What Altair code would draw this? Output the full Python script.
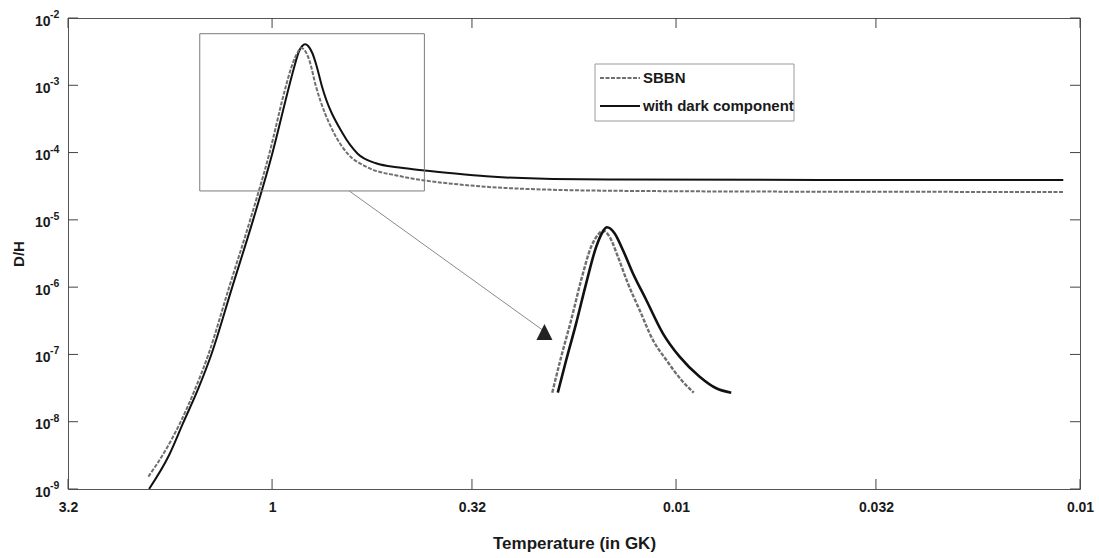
import altair as alt
import pandas as pd

# ---------------- values ----------------
# main curves: temperature (GK) and D/H
sbbn_T = [2.024, 1.840, 1.689, 1.550, 1.439, 1.277, 1.133, 1.016, 0.924, 0.897,
          0.871, 0.847, 0.828, 0.809, 0.779, 0.702, 0.650, 0.585, 0.484, 0.420,
          0.358, 0.295, 0.202, 0.138, 0.044, 0.011]
sbbn_DH = [1.53e-9, 3.67e-9, 9.6e-9, 3.07e-8, 9.8e-8, 1.0e-6, 9.95e-6, 9.6e-5, 9.76e-4, 1.81e-3,
           2.82e-3, 3.58e-3, 3.23e-3, 2.38e-3, 9.76e-4, 1.93e-4, 9.62e-5, 6.17e-5, 4.49e-5, 3.85e-5,
           3.44e-5, 3.10e-5, 2.80e-5, 2.70e-5, 2.62e-5, 2.60e-5]

dark_T = [2.016, 1.798, 1.660, 1.524, 1.415, 1.255, 1.114, 0.999, 0.907, 0.881,
          0.857, 0.842, 0.828, 0.814, 0.795, 0.777, 0.753, 0.669, 0.614, 0.553,
          0.484, 0.420, 0.358, 0.295, 0.202, 0.138, 0.044, 0.011]
dark_DH = [1.0e-9, 3.2e-9, 9.6e-9, 3.07e-8, 9.8e-8, 1.0e-6, 1.0e-5, 9.6e-5, 9.76e-4, 1.89e-3,
           3.23e-3, 3.84e-3, 4.07e-3, 3.84e-3, 3.02e-3, 2.00e-3, 9.76e-4, 1.93e-4, 9.62e-5, 6.93e-5,
           6.00e-5, 5.42e-5, 4.92e-5, 4.44e-5, 4.05e-5, 3.98e-5, 3.91e-5, 3.91e-5]

# magnified inset copy of the peak, drawn inside the plot
inset_sbbn_T = [0.2025, 0.1924, 0.1818, 0.1717, 0.1622, 0.1562, 0.1518, 0.1461,
                0.1393, 0.1316, 0.1231, 0.1141, 0.1057, 0.0970, 0.0904]
inset_sbbn_DH = [2.70e-8, 9.26e-8, 3.25e-7, 1.28e-6, 3.99e-6, 5.96e-6, 6.91e-6, 5.62e-6,
                 2.84e-6, 1.14e-6, 4.58e-7, 1.64e-7, 8.27e-8, 4.17e-8, 2.70e-8]
inset_dark_T = [0.1962, 0.1870, 0.1767, 0.1669, 0.1576, 0.1518, 0.1483, 0.1420,
                0.1354, 0.1279, 0.1185, 0.1078, 0.0980, 0.0874, 0.0795, 0.0730]
inset_dark_DH = [2.70e-8, 8.27e-8, 2.90e-7, 1.14e-6, 3.99e-6, 6.67e-6, 7.75e-6, 6.32e-6,
                 3.57e-6, 1.61e-6, 6.45e-7, 2.06e-7, 9.26e-8, 4.67e-8, 3.14e-8, 2.70e-8]

# zoom rectangle, connector line and triangle marker
zoom_box_T = [1.510, 0.4197]
zoom_box_DH = [2.69e-5, 5.84e-3]
arrow_T = [0.644, 0.2141]
arrow_DH = [2.69e-5, 2.31e-7]
marker_T = [0.2117]
marker_DH = [2.16e-7]

# axes
x_tick_values = [3.2, 1, 0.32, 0.1, 0.032, 0.01]
x_tick_labels = ["3.2", "1", "0.32", "0.01", "0.032", "0.01"]
y_tick_exponents = [-9, -8, -7, -6, -5, -4, -3, -2]
legend_labels = ["SBBN", "with dark component"]

# ---------------- chart ----------------
W, H = 1012, 471
FONT = "Liberation Sans"
TEXT = "#1a1a1a"
SBBN_COLOR = "#6f6f6f"
DARK_COLOR = "#111111"

y_tick_values = [10.0 ** e for e in y_tick_exponents]

x_expr = "datum.label"
for v, lab in reversed(list(zip(x_tick_values, x_tick_labels))):
    x_expr = f"abs(datum.value - {v}) < {v * 1e-6} ? '{lab}' : ({x_expr})"

x_scale = alt.Scale(type="log", domain=[0.01, 3.2], reverse=True, nice=False)
y_scale = alt.Scale(type="log", domain=[1e-9, 1e-2], nice=False)

x_axis = alt.Axis(values=x_tick_values, labelExpr=x_expr, title="Temperature (in GK)",
                  ticks=False, tickSize=0, domain=False, grid=False,
                  labelFlush=False, labelOverlap=False, labelPadding=11,
                  labelFont=FONT, labelFontSize=14, labelFontWeight="bold", labelColor=TEXT,
                  titleFont=FONT, titleFontSize=17, titleFontWeight="bold", titleColor=TEXT,
                  titleY=54, titleBaseline="middle")
# base "10" of every power label; the exponent is a separate text layer
y_axis = alt.Axis(values=y_tick_values, labelExpr="'10'", title="D/H",
                  ticks=False, tickSize=0, domain=False, grid=False,
                  labelFlush=False, labelOverlap=False, labelPadding=18, labelOffset=3,
                  labelFont=FONT, labelFontSize=14, labelFontWeight="bold", labelColor=TEXT,
                  titleFont=FONT, titleFontSize=15, titleFontWeight="bold", titleColor=TEXT,
                  titleAngle=270, titleX=-50, titleY=H / 2, titleBaseline="middle")

X = alt.X("T:Q", scale=x_scale, axis=x_axis)
Y = alt.Y("DH:Q", scale=y_scale, axis=y_axis)


def curve(T, DH):
    return pd.DataFrame({"T": T, "DH": DH, "i": list(range(len(T)))})


def line_layer(T, DH, color, width, dash=None):
    kw = dict(color=color, strokeWidth=width, interpolate="monotone", clip=True)
    if dash:
        kw["strokeDash"] = dash
    return alt.Chart(curve(T, DH)).mark_line(**kw).encode(x=X, y=Y, order="i:Q")


main_sbbn = line_layer(sbbn_T, sbbn_DH, SBBN_COLOR, 2, [4, 1.5])
main_dark = line_layer(dark_T, dark_DH, DARK_COLOR, 2)
ins_sbbn = line_layer(inset_sbbn_T, inset_sbbn_DH, SBBN_COLOR, 2.4, [4, 1.5])
ins_dark = line_layer(inset_dark_T, inset_dark_DH, DARK_COLOR, 2.6)

box_df = pd.DataFrame({"T": [zoom_box_T[0]], "T2": [zoom_box_T[1]],
                       "DH": [zoom_box_DH[0]], "DH2": [zoom_box_DH[1]]})
zoom_box = alt.Chart(box_df).mark_rect(fill=None, stroke="#7a7a7a", strokeWidth=1).encode(
    x=X, x2="T2:Q", y=Y, y2="DH2:Q")

arrow_df = pd.DataFrame({"T": [arrow_T[0]], "T2": [arrow_T[1]],
                         "DH": [arrow_DH[0]], "DH2": [arrow_DH[1]]})
arrow = alt.Chart(arrow_df).mark_rule(color="#8a8a8a", strokeWidth=1).encode(
    x=X, x2="T2:Q", y=Y, y2="DH2:Q")

marker = alt.Chart(pd.DataFrame({"T": marker_T, "DH": marker_DH})).mark_point(
    shape="M-1,1L1,1L0,-1Z", size=256, filled=True, color="#222222", opacity=1).encode(x=X, y=Y)

# exponents of the y labels (superscripts)
exp_df = pd.DataFrame({"DH": y_tick_values, "e": [str(e) for e in y_tick_exponents]})
y_exponents = alt.Chart(exp_df).mark_text(
    align="left", baseline="middle", dy=-3, font=FONT, fontSize=10.5, fontWeight="bold", color=TEXT
).encode(y=Y, x=alt.value(-18), text="e:N")

# inward tick marks on all four sides
xt = pd.DataFrame({"T": x_tick_values})
yt = pd.DataFrame({"DH": y_tick_values})
TICK = 10
tick_style = dict(color="#444444", strokeWidth=1)
ticks_bottom = alt.Chart(xt).mark_rule(**tick_style).encode(x=X, y=alt.value(H), y2=alt.value(H - TICK))
ticks_top = alt.Chart(xt).mark_rule(**tick_style).encode(x=X, y=alt.value(0), y2=alt.value(TICK))
ticks_left = alt.Chart(yt).mark_rule(**tick_style).encode(y=Y, x=alt.value(0), x2=alt.value(TICK))
ticks_right = alt.Chart(yt).mark_rule(**tick_style).encode(y=Y, x=alt.value(W), x2=alt.value(W - TICK))

# legend box (drawn by hand, as in the reference)
one = pd.DataFrame({"k": [0]})
leg_box = alt.Chart(one).mark_rect(fill="white", stroke="#9a9a9a", strokeWidth=1).encode(
    x=alt.value(527), x2=alt.value(726), y=alt.value(46), y2=alt.value(103))
leg_line1 = alt.Chart(one).mark_rule(color=SBBN_COLOR, strokeWidth=2, strokeDash=[4, 1.5]).encode(
    x=alt.value(532), x2=alt.value(572), y=alt.value(60))
leg_line2 = alt.Chart(one).mark_rule(color=DARK_COLOR, strokeWidth=2).encode(
    x=alt.value(532), x2=alt.value(572), y=alt.value(88))
leg_text1 = alt.Chart(pd.DataFrame({"label": [legend_labels[0]]})).mark_text(
    align="left", baseline="middle", font=FONT, fontSize=15, fontWeight="bold", color=TEXT).encode(
    text="label:N", x=alt.value(575), y=alt.value(60))
leg_text2 = alt.Chart(pd.DataFrame({"label": [legend_labels[1]]})).mark_text(
    align="left", baseline="middle", font=FONT, fontSize=15, fontWeight="bold", color=TEXT).encode(
    text="label:N", x=alt.value(575), y=alt.value(88))

chart = alt.layer(
    main_dark, main_sbbn, zoom_box, arrow, ins_sbbn, ins_dark, marker, y_exponents,
    ticks_bottom, ticks_top, ticks_left, ticks_right,
    leg_box, leg_line1, leg_line2, leg_text1, leg_text2,
).properties(
    width=W, height=H,
    padding={"left": 68, "top": 18, "right": 19, "bottom": 69},
    autosize=alt.AutoSizeParams(type="none"),
    background="white",
).configure_view(stroke="#555555", strokeWidth=1)

chart.save("out.html", embed_options={"renderer": "svg", "actions": False})
